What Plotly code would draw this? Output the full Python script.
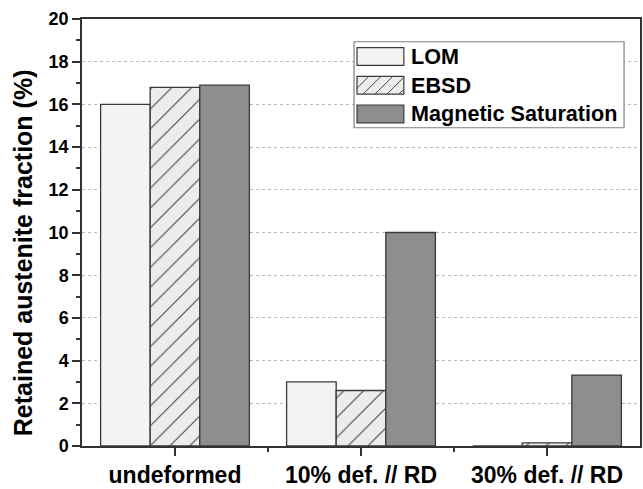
import plotly.graph_objects as go

categories = ["undeformed", "10% def. // RD", "30% def. // RD"]
series_names = ["LOM", "EBSD", "Magnetic Saturation"]
lom = [16.0, 3.0, 0.0]
ebsd = [16.8, 2.6, 0.15]
mag_sat = [16.9, 10.0, 3.32]
y_ticks = list(range(0, 21, 2))

FONT = "Liberation Sans, Arial, sans-serif"
W, H = 643, 489
L, R, T, B = 82, 1, 19, 38
PW, PH = W - L - R, H - T - B

def px(x):
    return (x - L) / PW

def py(y):
    return (H - B - y) / PH

xpos = list(range(len(categories)))
line = dict(color="#3a3a3a", width=1.3)

fig = go.Figure()
fig.add_trace(go.Bar(x=xpos, y=lom, name=series_names[0],
                     marker=dict(color="#f3f3f3", line=line)))
fig.add_trace(go.Bar(x=xpos, y=ebsd, name=series_names[1],
                     marker=dict(color="#ececec", line=line,
                                 pattern=dict(shape="/", fgcolor="#4a4a4a", bgcolor="#ececec",
                                              size=14, solidity=0.08, fillmode="replace"))))
fig.add_trace(go.Bar(x=xpos, y=mag_sat, name=series_names[2],
                     marker=dict(color="#8e8e8e", line=line)))

# manual legend
shapes = []
annotations = []
shapes.append(dict(type="rect", xref="paper", yref="paper",
                   x0=px(355), x1=px(626), y0=py(129), y1=py(42),
                   line=dict(color="#808080", width=1.2), fillcolor="white", layer="above"))
sw_x0, sw_x1 = 358, 405
rows = [(48, 66), (77, 95), (106, 124)]
fills = ["#f3f3f3", "#ececec", "#8e8e8e"]
for i, (y0, y1) in enumerate(rows):
    shapes.append(dict(type="rect", xref="paper", yref="paper",
                       x0=px(sw_x0), x1=px(sw_x1), y0=py(y1), y1=py(y0),
                       line=dict(color="#3a3a3a", width=1.2), fillcolor=fills[i], layer="above"))
    annotations.append(dict(xref="paper", yref="paper", x=px(410), y=py((y0 + y1) / 2),
                            text=series_names[i], showarrow=False, xanchor="left", yanchor="middle",
                            font=dict(family=FONT, size=21.6, color="black", weight="bold")))
# hatch for EBSD swatch
y0, y1 = rows[1]
h = y1 - y0
c = sw_x0 - h
while c < sw_x1:
    xs, ys = c, y1
    xe, ye = c + h, y0
    if xs < sw_x0:
        ys = y1 - (sw_x0 - xs)
        xs = sw_x0
    if xe > sw_x1:
        ye = y0 + (xe - sw_x1)
        xe = sw_x1
    if xe > xs:
        shapes.append(dict(type="line", xref="paper", yref="paper",
                           x0=px(xs), y0=py(ys), x1=px(xe), y1=py(ye),
                           line=dict(color="#4a4a4a", width=1), layer="above"))
    c += 12

annotations.append(dict(xref="paper", yref="paper", x=0, xshift=-59, y=py(256),
                        text="Retained austenite fraction (%)", textangle=-90, showarrow=False,
                        xanchor="center", yanchor="middle",
                        font=dict(family=FONT, size=25, color="black", weight="bold")))

fig.update_layout(
    width=W, height=H,
    margin=dict(l=L, r=R, t=T, b=B, pad=0),
    paper_bgcolor="white", plot_bgcolor="white",
    barmode="group", bargap=0.2, bargroupgap=0,
    showlegend=False,
    shapes=shapes, annotations=annotations,
    xaxis=dict(range=[-0.5, 2.5], tickmode="array", tickvals=xpos, ticktext=categories,
               showline=True, linecolor="#333333", linewidth=1.5, mirror=True,
               ticks="outside", ticklen=8, tickwidth=1.5, tickcolor="#333333",
               showgrid=False, zeroline=False,
               tickfont=dict(family=FONT, size=23, color="black", weight="bold"),
               minor=dict(tickmode="array", tickvals=[0.5, 1.5], ticks="outside", ticklen=4,
                          tickwidth=1.5, tickcolor="#333333", showgrid=False)),
    yaxis=dict(range=[0, 20], tickmode="array", tickvals=y_ticks,
               showline=True, linecolor="#333333", linewidth=1.5, mirror=True,
               ticks="outside", ticklen=8, tickwidth=1.5, tickcolor="#333333",
               showgrid=True, gridcolor="#b8b8b8", griddash="dot", gridwidth=1,
               zeroline=False,
               tickfont=dict(family=FONT, size=18, color="black", weight="bold"),
               minor=dict(dtick=1, ticks="outside", ticklen=4, tickwidth=1.5,
                          tickcolor="#333333", showgrid=False)),
)

fig.write_html("out.html", config={"displayModeBar": False},
               post_script="document.body.style.margin='0';document.body.style.overflow='hidden';")
